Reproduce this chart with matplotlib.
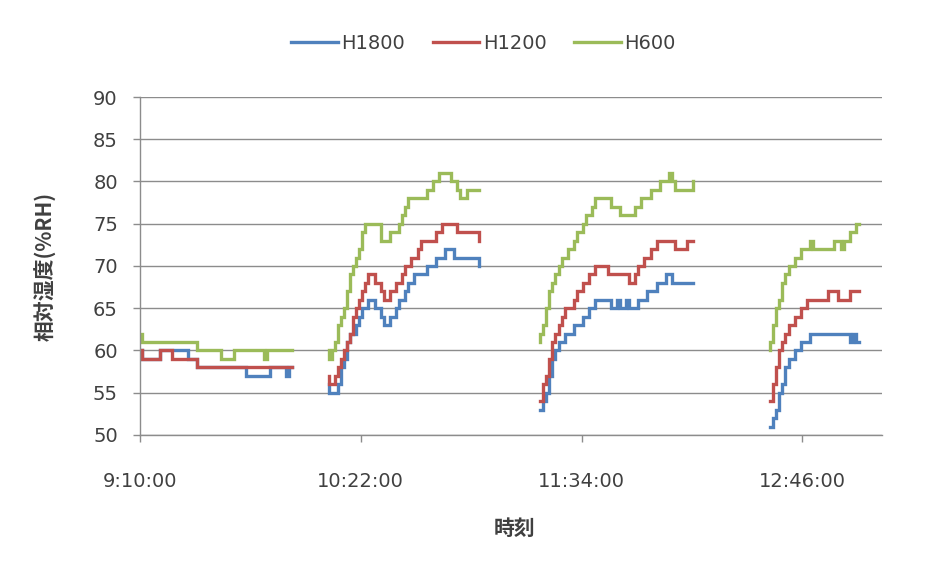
import numpy as np
import matplotlib
matplotlib.use("Agg")
import matplotlib.pyplot as plt

# start time of each measurement run
seg_start = ["9:10", "10:11", "11:20", "12:35"]

# one reading per minute, per run
h1800 = [
    [60, 59, 59, 59, 59, 59, 59, 60, 60, 60, 60, 60, 60, 60, 60, 60, 59, 59, 59,
     58, 58, 58, 58, 58, 58, 58, 58, 58, 58, 58, 58, 58, 58, 58, 58,
     57, 57, 57, 57, 57, 57, 57, 57, 58, 58, 58, 58, 58, 57, 58, 58],
    [56, 55, 55, 55, 56, 58, 59, 61, 62, 62, 63, 64, 65, 65, 66, 66, 65, 65, 64,
     63, 63, 64, 64, 65, 66, 66, 67, 68, 68, 69, 69, 69, 69, 70, 70, 70, 71, 71,
     71, 72, 72, 72, 71, 71, 71, 71, 71, 71, 71, 71, 70],
    [53, 53, 54, 55, 57, 59, 60, 61, 61, 62, 62, 62, 63, 63, 63, 64, 64, 65, 65,
     66, 66, 66, 66, 66, 65, 65, 66, 65, 65, 66, 65, 65, 65, 66, 66, 66, 67, 67,
     67, 68, 68, 68, 69, 69, 68, 68, 68, 68, 68, 68, 68, 68],
    [51, 51, 52, 53, 55, 56, 58, 59, 59, 60, 60, 61, 61, 61, 62, 62, 62, 62, 62,
     62, 62, 62, 62, 62, 62, 62, 62, 61, 62, 61, 61],
]
h1200 = [
    [60, 59, 59, 59, 59, 59, 59, 60, 60, 60, 60, 59, 59, 59, 59, 59, 59, 59, 59,
     58, 58, 58, 58, 58, 58, 58, 58, 58, 58, 58, 58, 58, 58, 58, 58,
     58, 58, 58, 58, 58, 58, 58, 58, 58, 58, 58, 58, 58, 58, 58, 58],
    [57, 56, 56, 57, 58, 59, 60, 61, 62, 64, 65, 66, 67, 68, 69, 69, 68, 68, 67,
     66, 66, 67, 67, 68, 68, 69, 70, 70, 71, 71, 72, 73, 73, 73, 73, 73, 74, 74,
     75, 75, 75, 75, 75, 74, 74, 74, 74, 74, 74, 74, 73],
    [54, 54, 56, 57, 59, 61, 62, 63, 64, 65, 65, 65, 66, 67, 67, 68, 68, 69, 69,
     70, 70, 70, 70, 69, 69, 69, 69, 69, 69, 69, 68, 68, 69, 70, 70, 71, 71, 72,
     72, 73, 73, 73, 73, 73, 73, 72, 72, 72, 72, 73, 73, 73],
    [54, 54, 56, 58, 60, 61, 62, 63, 63, 64, 64, 65, 65, 66, 66, 66, 66, 66, 66,
     66, 67, 67, 67, 66, 66, 66, 66, 67, 67, 67, 67],
]
h600 = [
    [62, 61, 61, 61, 61, 61, 61, 61, 61, 61, 61, 61, 61, 61, 61, 61, 61, 61, 61,
     60, 60, 60, 60, 60, 60, 60, 60, 59, 59, 59, 59, 60, 60, 60, 60, 60,
     60, 60, 60, 60, 60, 59, 60, 60, 60, 60, 60, 60, 60, 60, 60],
    [60, 59, 60, 61, 63, 64, 65, 67, 69, 70, 71, 72, 74, 75, 75, 75, 75, 75, 73,
     73, 73, 74, 74, 74, 75, 76, 77, 78, 78, 78, 78, 78, 78, 79, 79, 80, 80, 81,
     81, 81, 81, 80, 80, 79, 78, 78, 79, 79, 79, 79, 79],
    [61, 62, 63, 65, 67, 68, 69, 70, 71, 71, 72, 72, 73, 74, 74, 75, 76, 76, 77,
     78, 78, 78, 78, 78, 77, 77, 77, 76, 76, 76, 76, 76, 77, 77, 78, 78, 78, 79,
     79, 79, 80, 80, 80, 81, 80, 79, 79, 79, 79, 79, 79, 80],
    [60, 61, 63, 65, 66, 68, 69, 70, 70, 71, 71, 72, 72, 72, 73, 72, 72, 72, 72,
     72, 72, 72, 73, 73, 72, 73, 73, 74, 74, 75, 75],
]

series_names = ["H1800", "H1200", "H600"]
series_data = [h1800, h1200, h600]
colors = ["#4F81BD", "#C0504D", "#9BBB59"]

tick_labels = ["9:10:00", "10:22:00", "11:34:00", "12:46:00"]
y_ticks = [50, 55, 60, 65, 70, 75, 80, 85, 90]


def to_min(s):
    h, m = s.split(":")[:2]
    return int(h) * 60 + int(m)


t0 = to_min(seg_start[0])
starts = [to_min(s) - t0 for s in seg_start]
tick_pos = [to_min(s) - t0 for s in tick_labels]


def join_runs(runs):
    # lay the runs on a minute axis with gaps between them
    xs, ys = [], []
    for st, vals in zip(starts, runs):
        xs += list(st + np.arange(len(vals))) + [np.nan]
        ys += list(vals) + [np.nan]
    return np.array(xs, float), np.array(ys, float)


cjk = ["Noto Sans CJK JP", "DejaVu Sans"]
txt_col = "#404040"
grid_col = "#8C8C8C"

fig = plt.figure(figsize=(9.48, 5.75), dpi=100)
ax = fig.add_axes([0.1477, 0.2435, 0.7827, 0.5878])

ax.set_axisbelow(True)
ax.yaxis.grid(True, color=grid_col, linewidth=1.0)
for name, runs, c in zip(series_names, series_data, colors):
    x, y = join_runs(runs)
    ax.plot(x, y, color=c, linewidth=2.4, label=name, drawstyle="steps-mid",
            solid_joinstyle="miter")

ax.set_xlim(0, 242)
ax.set_ylim(50, 90)
ax.set_yticks(y_ticks)
ax.set_xticks(tick_pos)
ax.set_xticklabels(tick_labels)

for side in ["top", "right"]:
    ax.spines[side].set_visible(False)
for side in ["left", "bottom"]:
    ax.spines[side].set_color(grid_col)
    ax.spines[side].set_linewidth(1.0)

ax.tick_params(axis="y", length=5, width=1, color=grid_col, pad=11,
               labelsize=14, labelcolor=txt_col)
ax.tick_params(axis="x", length=5, width=1, color=grid_col, pad=22,
               labelsize=14, labelcolor=txt_col)

ax.set_ylabel("相対湿度(%RH)", family=cjk, fontsize=15, fontweight="bold",
              color=txt_col)
ax.yaxis.set_label_coords(-0.112, 0.5)
ax.set_xlabel("時刻", family=cjk, fontsize=15, fontweight="bold", color=txt_col)
ax.xaxis.set_label_coords(0.505, -0.245)

fig.legend(loc="center", bbox_to_anchor=(0.51, 0.925), ncol=3, frameon=False,
           fontsize=14, handlelength=2.4, handletextpad=0.2, columnspacing=1.4,
           labelcolor=txt_col)

fig.savefig("out.png", dpi=100, facecolor="white")
